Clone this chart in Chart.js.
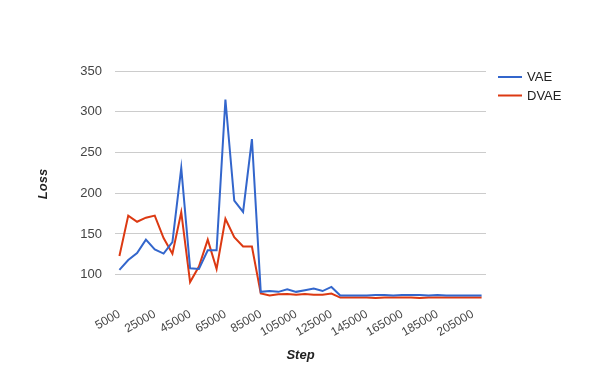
<!DOCTYPE html>
<html>
<head>
<meta charset="utf-8">
<script src="https://cdn.jsdelivr.net/npm/chart.js@4.4.1/dist/chart.umd.min.js"></script>
<style>
html,body{margin:0;padding:0;background:#fff;}
#wrap{width:600px;height:371px;position:relative;}
</style>
</head>
<body>
<div id="wrap"><canvas id="c" width="600" height="371"></canvas></div>
<script>
const steps = [];
for (let s = 5000; s <= 210000; s += 5000) steps.push(s);

const vae = [106, 118, 126.5, 143, 131, 126, 140, 231, 108, 107,
             130, 130, 315, 191, 177, 266.5, 79, 80, 79, 82,
             79, 81, 83, 80, 85, 74.5, 74.5, 74.5, 74.5, 75,
             75, 74.5, 75, 75, 75, 74.5, 75, 74.5, 74.5, 74.5,
             74.5, 74.5];
const dvae = [123, 172.6, 165, 170, 172.6, 145, 125.7, 176.7, 91, 110,
              143, 107, 168.6, 146, 134.7, 134.7, 77, 74.5, 76, 76.5,
              75.5, 76.3, 75.5, 75.5, 77, 72, 72, 72, 72, 71.6,
              72, 72, 72, 72, 71.6, 72, 72, 72, 72, 72,
              72, 72];
const yTicks = [100, 150, 200, 250, 300, 350];
const seriesNames = ['VAE', 'DVAE'];
const seriesColors = ['#3366cc', '#dc3912'];
const xTitle = 'Step';
const yTitle = 'Loss';

const FONT = 'Arial, "Liberation Sans", sans-serif';

const extras = {
  id: 'extras',
  afterDraw(chart) {
    const ctx = chart.ctx;
    const area = chart.chartArea;
    ctx.save();
    ctx.fillStyle = '#222';
    ctx.font = 'italic bold 13px ' + FONT;
    ctx.textAlign = 'center';
    ctx.textBaseline = 'middle';
    ctx.fillText(xTitle, (area.left + area.right) / 2, 355);
    ctx.save();
    ctx.translate(43, 184);
    ctx.rotate(-Math.PI / 2);
    ctx.fillText(yTitle, 0, 0);
    ctx.restore();
    ctx.font = '13px ' + FONT;
    ctx.textAlign = 'left';
    chart.data.datasets.forEach((ds, i) => {
      const y = 77 + i * 18.5;
      ctx.strokeStyle = ds.borderColor;
      ctx.lineWidth = 2;
      ctx.beginPath();
      ctx.moveTo(498, y);
      ctx.lineTo(522, y);
      ctx.stroke();
      ctx.fillStyle = '#222';
      ctx.fillText(ds.label, 527, y + 0.5);
    });
    ctx.restore();
  }
};

new Chart(document.getElementById('c'), {
  type: 'line',
  data: {
    labels: steps,
    datasets: [
      { label: seriesNames[0], data: vae, borderColor: seriesColors[0], backgroundColor: seriesColors[0], borderWidth: 2, pointRadius: 0, tension: 0 },
      { label: seriesNames[1], data: dvae, borderColor: seriesColors[1], backgroundColor: seriesColors[1], borderWidth: 2, pointRadius: 0, tension: 0 }
    ]
  },
  options: {
    responsive: false,
    animation: false,
    layout: { padding: { left: 0, right: 114, top: 71, bottom: 0 } },
    plugins: { legend: { display: false }, tooltip: { enabled: false } },
    scales: {
      x: {
        type: 'category',
        offset: true,
        grid: { display: false, drawTicks: false },
        border: { display: false },
        ticks: {
          autoSkip: false,
          minRotation: 30,
          maxRotation: 30,
          padding: 7,
          color: '#444',
          font: { family: FONT, size: 12 },
          callback: function(v, i) { return i % 4 === 0 ? String(steps[i]) : ''; }
        },
        afterFit: function(s) { s.height = 71; }
      },
      y: {
        min: 69,
        max: 350,
        grid: { color: '#cccccc', lineWidth: 1, drawTicks: false },
        border: { display: false },
        afterBuildTicks: function(s) { s.ticks = yTicks.map(v => ({ value: v })); },
        ticks: {
          padding: 13,
          color: '#444',
          font: { family: FONT, size: 13 }
        },
        afterFit: function(s) { s.width = 115; }
      }
    }
  },
  plugins: [extras]
});
</script>
</body>
</html>
